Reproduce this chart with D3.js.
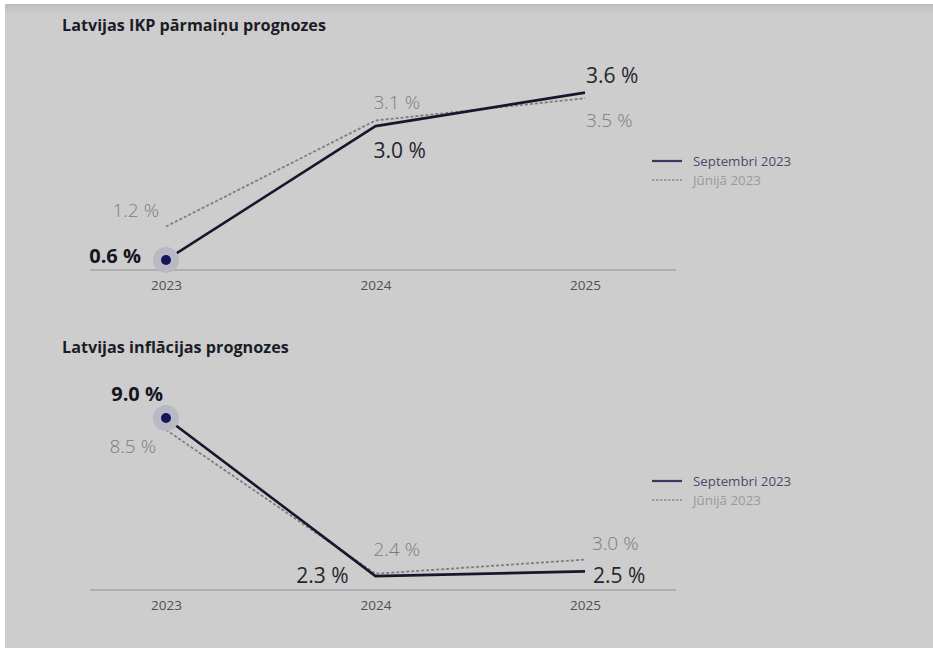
<!DOCTYPE html>
<html><head><meta charset="utf-8">
<script src="https://cdn.jsdelivr.net/npm/d3@7"></script>
<style>
html,body{margin:0;padding:0;background:#fff;}
svg{display:block;font-family:"Open Sans",sans-serif;}
</style></head>
<body><svg id="c" width="933" height="648"></svg>
<script>
// ---- data ----
const years = ["2023", "2024", "2025"];
const gdpSeptember = [0.6, 3.0, 3.6];
const gdpJune = [1.2, 3.1, 3.5];
const inflSeptember = [9.0, 2.3, 2.5];
const inflJune = [8.5, 2.4, 3.0];
const titles = ["Latvijas IKP pārmaiņu prognozes", "Latvijas inflācijas prognozes"];
const legendLabels = ["Septembri 2023", "Jūnijā 2023"];

// ---- label placement (offsets from data points) ----
const gdpSepLabelPos = [{a:"end",dx:-25,dy:3},{a:"start",dx:-2,dy:32},{a:"start",dx:1,dy:-10}];
const gdpJunLabelPos = [{a:"end",dx:-7,dy:-9.5},{a:"start",dx:-2,dy:-11.5},{a:"start",dx:1,dy:28.5}];
const infSepLabelPos = [{a:"end",dx:-3,dy:-17},{a:"end",dx:-27,dy:7},{a:"start",dx:8,dy:11.6}];
const infJunLabelPos = [{a:"end",dx:-10,dy:23},{a:"start",dx:-2,dy:-17.5},{a:"start",dx:7,dy:-9.6}];

const svg = d3.select("#c");
const defs = svg.append("defs");
const g = defs.append("linearGradient").attr("id","shade").attr("x1",0).attr("y1",0).attr("x2",0).attr("y2",1);
g.append("stop").attr("offset","0%").attr("stop-color","#bdbdbd");
g.append("stop").attr("offset","100%").attr("stop-color","#cdcdcd");

svg.append("rect").attr("x",5).attr("y",4).attr("width",928).attr("height",644).attr("fill","#cdcdcd");
svg.append("rect").attr("x",5).attr("y",4).attr("width",928).attr("height",10).attr("fill","url(#shade)");

const x = d3.scalePoint().domain(years).range([166, 585]);

const SOLID = "#17172c", DASH = "#7e7e7e";

function panel(cfg){
  const root = svg.append("g");
  root.append("text").attr("x",62).attr("y",cfg.titleY)
    .attr("font-size",16.2).attr("font-weight",700).attr("fill","#1c1c28").text(cfg.title);
  // axis
  const ax = root.append("g").attr("transform",`translate(0,${cfg.axisY})`)
    .call(d3.axisBottom(x).tickSize(0).tickPadding(10));
  ax.select(".domain").remove();
  ax.append("line").attr("x1",90).attr("x2",676).attr("stroke","#a4a4a4").attr("stroke-width",1.5);
  ax.selectAll(".tick text").attr("font-family","'Open Sans',sans-serif").attr("font-size",13.5).attr("fill","#4f4f55");

  const y = cfg.y;
  const line = d3.line().x((d,i)=>x(years[i])).y(d=>y(d));
  root.append("path").datum(cfg.jun).attr("d",line).attr("fill","none")
    .attr("stroke",DASH).attr("stroke-width",1.8).attr("stroke-dasharray","3,2");
  root.append("path").datum(cfg.sep).attr("d",line).attr("fill","none")
    .attr("stroke",SOLID).attr("stroke-width",2.6).attr("stroke-linejoin","round");
  // highlight
  root.append("circle").attr("cx",x(years[0])).attr("cy",y(cfg.sep[0])).attr("r",13)
    .attr("fill","#b9b9c6");
  root.append("circle").attr("cx",x(years[0])).attr("cy",y(cfg.sep[0])).attr("r",5)
    .attr("fill","#15155a");
  // labels
  const fmt = v => d3.format(".1f")(v) + " %";
  cfg.jun.forEach((v,i)=>{
    const p = cfg.junPos[i];
    root.append("text").attr("x",x(years[i])+p.dx).attr("y",y(v)+p.dy).attr("text-anchor",p.a)
      .attr("font-size",19).attr("font-weight",300).attr("fill","#7c7c7c").text(fmt(v));
  });
  cfg.sep.forEach((v,i)=>{
    const p = cfg.sepPos[i];
    root.append("text").attr("x",x(years[i])+p.dx).attr("y",y(v)+p.dy).attr("text-anchor",p.a)
      .attr("font-size",i===0?20:21).attr("font-weight",i===0?700:400)
      .attr("fill",i===0?"#15151f":"#26262f").text(fmt(v));
  });
  // legend
  const lg = root.append("g").attr("transform",`translate(652,${cfg.legendY})`);
  lg.append("line").attr("x1",0).attr("x2",30).attr("y1",0).attr("y2",0).attr("stroke","#3a3a5e").attr("stroke-width",2.2);
  lg.append("text").attr("x",41).attr("y",4.5).attr("font-size",13.3).attr("fill","#4a4a6c").text(legendLabels[0]);
  lg.append("line").attr("x1",0).attr("x2",30).attr("y1",19).attr("y2",19).attr("stroke","#8a8a8a").attr("stroke-width",1.4).attr("stroke-dasharray","2.5,1.5");
  lg.append("text").attr("x",41).attr("y",23.5).attr("font-size",13.3).attr("fill","#9a9a9a").text(legendLabels[1]);
}

panel({
  title: titles[0], titleY: 31, axisY: 270, legendY: 161,
  y: d3.scaleLinear().domain([0,4]).range([293.5, 70.3]),
  sep: gdpSeptember, jun: gdpJune, sepPos: gdpSepLabelPos, junPos: gdpJunLabelPos
});
panel({
  title: titles[1], titleY: 353, axisY: 590, legendY: 481,
  y: d3.scaleLinear().domain([0,10]).range([630.4, 394.4]),
  sep: inflSeptember, jun: inflJune, sepPos: infSepLabelPos, junPos: infJunLabelPos
});
</script></body></html>
